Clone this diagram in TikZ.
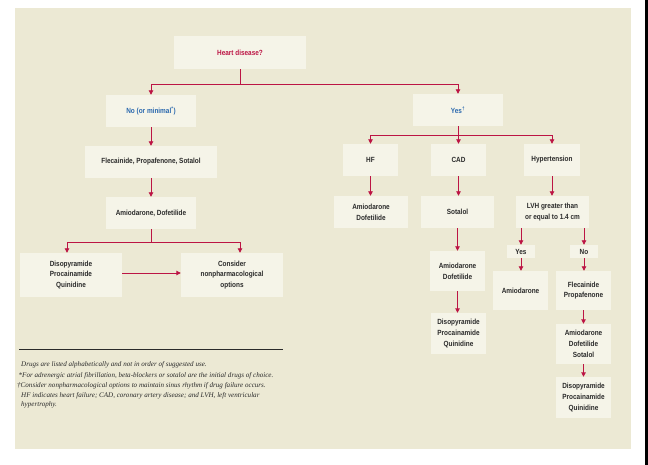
\documentclass[tikz,border=0pt]{standalone}
\usepackage{fontspec}
\setmainfont{Liberation Serif}
\newfontfamily\boxfont[FakeStretch=0.86]{Liberation Sans}
\usetikzlibrary{arrows.meta}
\definecolor{panel}{HTML}{ECE9D4}
\definecolor{boxfill}{HTML}{F5F4E8}
\definecolor{crim}{HTML}{BC1444}
\definecolor{blu}{HTML}{2A68AE}
\definecolor{txt}{HTML}{2A2A2A}
\tikzset{
  bx/.style={fill=boxfill, inner sep=0pt, align=center, text=txt,
    font=\boxfont\bfseries\fontsize{7.5}{10.8}\selectfont},
  arr/.style={draw=crim, line width=0.9bp, -{Triangle[length=4.5bp,width=4.5bp]}},
  ln/.style={draw=crim, line width=0.9bp},
  fn/.style={anchor=west, inner sep=0pt, text=txt, font=\itshape\fontsize{7.1}{8}\selectfont},
}
\begin{document}
\begin{tikzpicture}[x=1bp,y=-1bp]
\useasboundingbox (0,0) rectangle (648,465);
\fill[white] (0,0) rectangle (648,465);
\fill[panel] (15,8) rectangle (631,449);
\fill[black] (645,0) rectangle (648,465);

% boxes
\node[bx, minimum width=132bp, minimum height=33bp, text=crim] (heart) at (240,52.5) {Heart disease?};
\node[bx, minimum width=90bp, minimum height=32bp, text=blu] (no) at (151,111) {No (or minimal\textsuperscript{*})};
\node[bx, minimum width=90bp, minimum height=32bp, text=blu] (yes) at (458,110) {Yes\textsuperscript{†}};
\node[bx, minimum width=132bp, minimum height=32bp] (flec) at (151,162) {Flecainide, Propafenone, Sotalol};
\node[bx, minimum width=90bp, minimum height=32bp] (amio1) at (151,213) {Amiodarone, Dofetilide};
\node[bx, minimum width=102bp, minimum height=44bp] (diso1) at (71,275) {Disopyramide\\Procainamide\\Quinidine};
\node[bx, minimum width=102bp, minimum height=44bp] (consider) at (232,275) {Consider\\nonpharmacological\\options};

\node[bx, minimum width=55bp, minimum height=32bp] (hf) at (370.5,160) {HF};
\node[bx, minimum width=55bp, minimum height=32bp] (cad) at (458.5,160) {CAD};
\node[bx, minimum width=56bp, minimum height=32bp] (hyp) at (552,160) {Hypertension};
\node[bx, minimum width=74bp, minimum height=32bp] (amio2) at (371,212) {Amiodarone\\Dofetilide};
\node[bx, minimum width=73bp, minimum height=32bp] (sot) at (457.5,212) {Sotalol};
\node[bx, minimum width=73bp, minimum height=32bp] (lvh) at (552.5,212) {LVH greater than\\or equal to 1.4 cm};
\node[bx, minimum width=55bp, minimum height=40bp] (amio3) at (457.5,271) {Amiodarone\\Dofetilide};
\node[bx, minimum width=55bp, minimum height=41bp] (diso2) at (458.5,333.5) {Disopyramide\\Procainamide\\Quinidine};
\node[bx, minimum width=28bp, minimum height=13bp] (lvyes) at (521,251.5) {Yes};
\node[bx, minimum width=28bp, minimum height=13bp] (lvno) at (584,251.5) {No};
\node[bx, minimum width=55bp, minimum height=39bp] (amio4) at (520.5,290.5) {Amiodarone};
\node[bx, minimum width=55bp, minimum height=39bp] (flec2) at (583.5,290.5) {Flecainide\\Propafenone};
\node[bx, minimum width=55bp, minimum height=40bp] (amio5) at (583.5,344) {Amiodarone\\Dofetilide\\Sotalol};
\node[bx, minimum width=55bp, minimum height=41bp] (diso3) at (583.5,397.5) {Disopyramide\\Procainamide\\Quinidine};

% junctions
\coordinate (j1) at (240,84);
\coordinate (j2) at (458,135);
\coordinate (j3) at (151,242);

% connectors
\draw[ln] (heart.south) -- (j1);
\draw[arr] (j1) -| (no.north);
\draw[arr] (j1) -| (yes.north);
\draw[arr] (no.south) -- (flec.north);
\draw[arr] (flec.south) -- (amio1.north);
\draw[ln] (amio1.south) -- (j3);
\draw[arr] (j3) -| ([xshift=-4bp]diso1.north);
\draw[arr] (j3) -| ([xshift=8bp]consider.north);
\draw[arr] ([yshift=2bp]diso1.east) -- ([yshift=2bp]consider.west);

\draw[ln] (yes.south) -- (j2);
\draw[arr] (j2) -| (hf.north);
\draw[arr] (j2) -| (cad.north);
\draw[arr] (j2) -| (hyp.north);
\draw[arr] (hf.south) -- (hf.south |- amio2.north);
\draw[arr] (cad.south) -- (cad.south |- sot.north);
\draw[arr] (hyp.south) -- (hyp.south |- lvh.north);
\draw[arr] (sot.south) -- (sot.south |- amio3.north);
\draw[arr] (amio3.south) -- (amio3.south |- diso2.north);
\draw[arr] (lvh.south -| lvyes) -- (lvyes.north);
\draw[arr] (lvh.south -| lvno) -- (lvno.north);
\draw[arr] (lvyes.south) -- (lvyes.south |- amio4.north);
\draw[arr] (lvno.south) -- (lvno.south |- flec2.north);
\draw[arr] (flec2.south) -- (amio5.north);
\draw[arr] (amio5.south) -- (diso3.north);

% footnotes
\draw[line width=0.9bp, draw=txt] (19,349) -- (283,349);
\node[fn] (f1) at (21,365) {Drugs are listed alphabetically and not in order of suggested use.};
\node[fn] (f2) at (18.5,376) {*For adrenergic atrial fibrillation, beta-blockers or sotalol are the initial drugs of choice.};
\node[fn] (f3) at (17,386) {†Consider nonpharmacological options to maintain sinus rhythm if drug failure occurs.};
\node[fn] (f4) at (21,396) {HF indicates heart failure; CAD, coronary artery disease; and LVH, left ventricular};
\node[fn] (f5) at (21,405) {hypertrophy.};
\end{tikzpicture}
\end{document}
